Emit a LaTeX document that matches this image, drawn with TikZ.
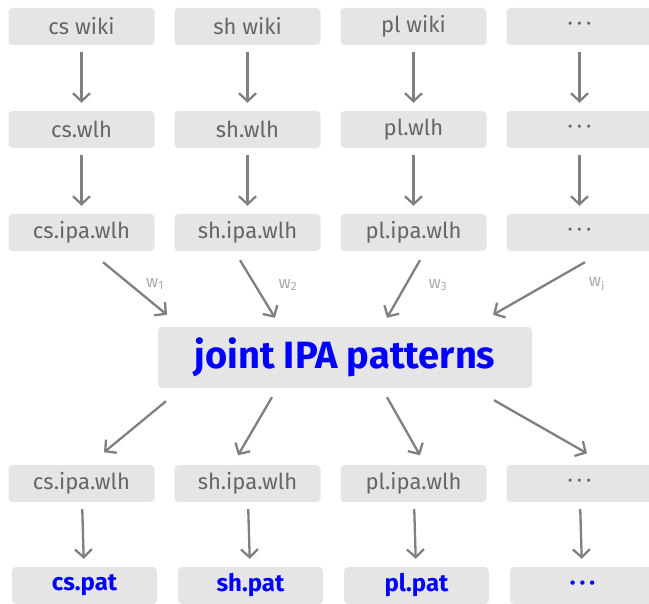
\documentclass[tikz,border=0pt]{standalone}
\usepackage{fontspec}
\setmainfont{Fira Sans}
\usepackage{tikz}
\usetikzlibrary{arrows.meta}
\newcommand{\more}{·\kern4pt·\kern4pt·}

\begin{document}
\begin{tikzpicture}[x=1pt, y=-1pt,
  box/.style={fill=gray!20, rounded corners=4pt, minimum width=146pt, minimum height=37pt, inner sep=0pt,
    text=black!60, font=\fontsize{22}{24}\selectfont},
  patbox/.style={box, minimum width=145pt, text=blue, font=\fontsize{24}{26}\selectfont\bfseries},
  flow/.style={-{Straight Barb[length=8pt, width=17pt, line width=2.3pt]}, line width=2.3pt, gray},
  wt/.style={text=black!33, font=\fontsize{17}{18}\selectfont}]

  \useasboundingbox (0,0) rectangle (649,604);

  % ========== Wikis ==========
  \node[box] (cswiki) at (81.5,26.5) {cs wiki};
  \node[box] (shwiki) at (247.5,26.5) {sh wiki};
  \node[box] (plwiki) at (413.5,26.5) {pl wiki};
  \node[box] (xxwiki) at (579.5,26.5) {\more};

  % ========== Word lists ==========
  \node[box] (cswlh) at (81.5,129.5) {cs.wlh};
  \node[box] (shwlh) at (247.5,129.5) {sh.wlh};
  \node[box] (plwlh) at (413.5,129.5) {pl.wlh};
  \node[box] (xxwlh) at (579.5,129.5) {\more};

  % ========== IPA word lists ==========
  \node[box] (csipa) at (81.5,232.5) {cs.ipa.wlh};
  \node[box] (shipa) at (247.5,232.5) {sh.ipa.wlh};
  \node[box] (plipa) at (413.5,232.5) {pl.ipa.wlh};
  \node[box] (xxipa) at (579.5,232.5) {\more};

  % ========== Joint patterns ==========
  \node[box, minimum width=374pt, minimum height=61pt, text=blue, font=\fontsize{38}{42}\selectfont\bfseries]
    (joint) at (345,357.5) {joint IPA patterns};

  % ========== IPA word lists (output) ==========
  \node[box] (csout) at (81.5,483.5) {cs.ipa.wlh};
  \node[box] (shout) at (247.5,483.5) {sh.ipa.wlh};
  \node[box] (plout) at (413.5,483.5) {pl.ipa.wlh};
  \node[box] (xxout) at (579.5,483.5) {\more};

  % ========== Pattern files ==========
  \node[patbox] (cspat) at (84.5,585.5) {cs.pat};
  \node[patbox] (shpat) at (250.5,585.5) {sh.pat};
  \node[patbox] (plpat) at (416.5,585.5) {pl.pat};
  \node[patbox] (xxpat) at (582.5,585.5) {\more};

  % vertical arrows
  \draw[flow, shorten <=7pt, shorten >=8pt] (cswiki) -- (cswlh);
  \draw[flow, shorten <=7pt, shorten >=8pt] (shwiki) -- (shwlh);
  \draw[flow, shorten <=7pt, shorten >=8pt] (plwiki) -- (plwlh);
  \draw[flow, shorten <=7pt, shorten >=8pt] (xxwiki) -- (xxwlh);

  \draw[flow, shorten <=7pt, shorten >=8pt] (cswlh) -- (csipa);
  \draw[flow, shorten <=7pt, shorten >=8pt] (shwlh) -- (shipa);
  \draw[flow, shorten <=7pt, shorten >=8pt] (plwlh) -- (plipa);
  \draw[flow, shorten <=7pt, shorten >=8pt] (xxwlh) -- (xxipa);

  % weighted arrows into the joint patterns
  \draw[flow] ([shift={(21.5,11)}]csipa.south) -- ([shift={(-178,-12)}]joint.north)
    node[wt, midway, xshift=20pt, yshift=4.5pt] {w\textsubscript{1}};
  \draw[flow] ([shift={(-7.5,9)}]shipa.south) -- ([shift={(-70,-9)}]joint.north)
    node[wt, midway, xshift=30.5pt, yshift=4pt] {w\textsubscript{2}};
  \draw[flow] ([shift={(6.5,9)}]plipa.south) -- ([shift={(42,-9)}]joint.north)
    node[wt, midway, xshift=34.5pt, yshift=4pt] {w\textsubscript{3}};
  \draw[flow] ([shift={(5.5,11)}]xxipa.south) -- ([shift={(148,-12)}]joint.north)
    node[wt, midway, xshift=58pt, yshift=4.5pt] {w\textsubscript{i}};

  % arrows out of the joint patterns
  \draw[flow] ([shift={(-179,13)}]joint.south) -- ([shift={(22.5,-12.5)}]csout.north);
  \draw[flow] ([shift={(-73,9)}]joint.south) -- ([shift={(-9.5,-9.5)}]shout.north);
  \draw[flow] ([shift={(42,9)}]joint.south) -- ([shift={(6.5,-9.5)}]plout.north);
  \draw[flow] ([shift={(149,12)}]joint.south) -- ([shift={(7.5,-11.5)}]xxout.north);

  % hyphenation
  \draw[flow, shorten <=7pt, shorten >=8pt] (csout) -- (cspat);
  \draw[flow, shorten <=7pt, shorten >=8pt] (shout) -- (shpat);
  \draw[flow, shorten <=7pt, shorten >=8pt] (plout) -- (plpat);
  \draw[flow, shorten <=7pt, shorten >=8pt] (xxout) -- (xxpat);

\end{tikzpicture}
\end{document}
